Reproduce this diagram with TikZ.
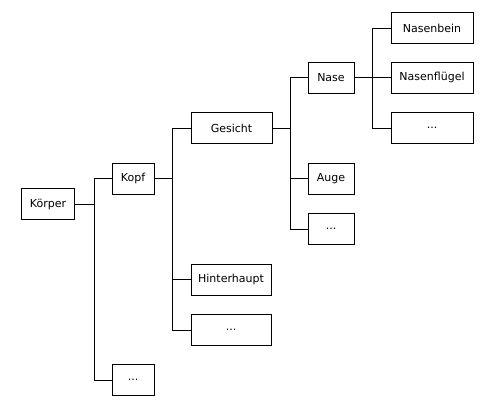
\documentclass[tikz,border=0pt]{standalone}
\usepackage{fontspec}
\setmainfont{DejaVu Sans}
\usepackage{tikz}
\tikzset{%
    teil/.style={draw, line width=1pt, inner sep=0pt,
        minimum height=31pt, minimum width=#1,
        font=\fontsize{11}{13}\selectfont},
    ast/.style={line width=1pt}
}

\begin{document}
\begin{tikzpicture}[x=1pt,y=-1pt]
\useasboundingbox[fill=white] (0,0) rectangle (495,408);

\node[teil=53pt] (koerper) at (48,204) {Körper};

\node[teil=42pt] (kopf) at (133,178.5) {Kopf};
\node[teil=42pt] (koerperrest) at (133,380) {...};

\node[teil=81pt] (gesicht) at (231.5,128) {Gesicht};
\node[teil=80pt] (hinterhaupt) at (231,279.5) {Hinterhaupt};
\node[teil=80pt] (kopfrest) at (231,330) {...};

\node[teil=46pt] (nase) at (331,77.5) {Nase};
\node[teil=46pt] (auge) at (331,178.5) {Auge};
\node[teil=46pt] (gesichtrest) at (331,229) {...};

\node[teil=82pt] (nasenbein) at (432,28) {Nasenbein};
\node[teil=82pt] (nasenfluegel) at (432,77.5) {Nasenflügel};
\node[teil=82pt] (naserest) at (432,128) {...};

% Verbindungen
\foreach \k in {kopf,koerperrest}
    \draw[ast] (koerper.east) -- ++(19,0) |- (\k.west);
\foreach \k in {gesicht,hinterhaupt,kopfrest}
    \draw[ast] (kopf.east) -- ++(18,0) |- (\k.west);
\foreach \k in {nase,auge,gesichtrest}
    \draw[ast] (gesicht.east) -- ++(18,0) |- (\k.west);
\foreach \k in {nasenbein,nasenfluegel,naserest}
    \draw[ast] (nase.east) -- ++(18,0) |- (\k.west);
\end{tikzpicture}
\end{document}
